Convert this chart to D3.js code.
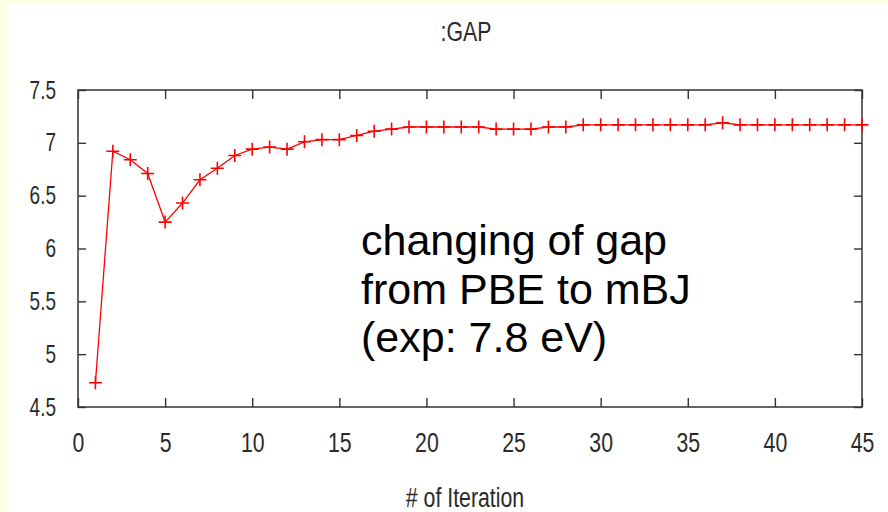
<!DOCTYPE html>
<html lang="en">
<head>
  <meta charset="UTF-8">
  <title>:GAP</title>
  <style>
    html, body { margin: 0; padding: 0; background: #fff; }
    .tick text, .lbl { font-family: 'Liberation Sans', Arial, sans-serif; fill: #2a2a2a; }
    .tick line { stroke: #333; stroke-width: 1.4px; }
    .gap-line { fill: none; stroke: #ff0000; stroke-width: 1.3px; }
    .marker { stroke: #ff0000; stroke-width: 1.6px; }
    .note { font-family: 'Liberation Sans', Arial, sans-serif; font-size: 43px; fill: #000; }
  </style>
</head>
<body>
<svg id="chart" width="888" height="512" viewBox="0 0 888 512"></svg>
<script src="https://d3js.org/d3.v7.min.js"></script>
<script>

// data
const iterations = [1, 2, 3, 4, 5, 6, 7, 8, 9, 10, 11, 12, 13, 14, 15, 16, 17, 18, 19, 20, 21, 22, 23,
  24, 25, 26, 27, 28, 29, 30, 31, 32, 33, 34, 35, 36, 37, 38, 39, 40, 41, 42, 43, 44, 45];
const gapValues = [4.73, 6.92, 6.84, 6.71, 6.25, 6.43, 6.65, 6.76, 6.88, 6.94, 6.96, 6.94, 7.01, 7.03, 7.03,
  7.07, 7.11, 7.13, 7.15, 7.15, 7.15, 7.15, 7.15, 7.13, 7.13, 7.13, 7.15, 7.15, 7.17, 7.17, 7.17, 7.17,
  7.17, 7.17, 7.17, 7.17, 7.19, 7.17, 7.17, 7.17, 7.17, 7.17, 7.17, 7.17, 7.17];
const xTicks = [0, 5, 10, 15, 20, 25, 30, 35, 40, 45];
const yTicks = [4.5, 5, 5.5, 6, 6.5, 7, 7.5];
const chartTitle = ":GAP";
const xTitle = "# of Iteration";
const noteLines = ["changing of gap", "from PBE to mBJ", "(exp: 7.8 eV)"];

const data = iterations.map((it, i) => ({ it: it, gap: gapValues[i] }));

const svg = d3.select("#chart"),
    margin = {top: 90, right: 26, bottom: 105, left: 78},
    width = +svg.attr("width") - margin.left - margin.right,
    height = +svg.attr("height") - margin.top - margin.bottom;

// gnuplot labels look squeezed sideways
const narrow = 0.76;

// pale yellow slide edge
svg.append("rect").attr("width", 888).attr("height", 512).attr("fill", "#ffffe3");
svg.append("rect").attr("x", 8).attr("y", 3).attr("width", 880).attr("height", 509).attr("fill", "#fff");

const x = d3.scaleLinear().domain([0, 45]).range([0, width]),
    y = d3.scaleLinear().domain([4.5, 7.5]).range([height, 0]);

const g = svg.append("g")
    .attr("transform", "translate(" + margin.left + "," + margin.top + ")");

// axes with inward ticks, mirrored on top/right
g.append("g")
    .attr("transform", "translate(0," + height + ")")
    .call(d3.axisBottom(x).tickValues(xTicks).tickSizeInner(-9).tickSizeOuter(0).tickPadding(25))
    .call(a => a.select(".domain").remove())
    .selectAll("text")
    .attr("font-size", 28)
    .attr("transform", "scale(" + narrow + ",1)");

g.append("g")
    .call(d3.axisTop(x).tickValues(xTicks).tickSizeInner(-9).tickSizeOuter(0).tickFormat(""))
    .call(a => a.select(".domain").remove());

g.append("g")
    .call(d3.axisLeft(y).tickValues(yTicks).tickSizeInner(-8).tickSizeOuter(0).tickFormat(d => String(d)))
    .call(a => a.select(".domain").remove())
    .selectAll("text")
    .attr("font-size", 25)
    .attr("x", -22 / narrow)
    .attr("transform", "scale(" + narrow + ",1)");

g.append("g")
    .attr("transform", "translate(" + width + ",0)")
    .call(d3.axisRight(y).tickValues(yTicks).tickSizeInner(-8).tickSizeOuter(0).tickFormat(""))
    .call(a => a.select(".domain").remove());

// frame
g.append("rect")
    .attr("width", width)
    .attr("height", height)
    .attr("fill", "none")
    .attr("stroke", "#333")
    .attr("stroke-width", 1.5);

const line = d3.line()
    .x(d => x(d.it))
    .y(d => y(d.gap));

g.append("path")
    .datum(data)
    .attr("class", "gap-line")
    .attr("d", line);

// plus markers
g.append("g")
    .selectAll("path")
    .data(data)
    .enter().append("path")
    .attr("class", "marker")
    .attr("d", d => {
      const px = x(d.it), py = y(d.gap), s = 6.5;
      return "M" + (px - s) + "," + py + "H" + (px + s) + "M" + px + "," + (py - s) + "V" + (py + s);
    });

// note
g.append("g")
    .selectAll("text")
    .data(noteLines)
    .enter().append("text")
    .attr("class", "note")
    .attr("x", 283)
    .attr("y", (d, i) => 165 + i * 48.5)
    .text(d => d);

svg.append("text")
    .attr("class", "lbl")
    .attr("x", 466 / narrow)
    .attr("y", 41)
    .attr("text-anchor", "middle")
    .attr("font-size", 28)
    .attr("transform", "scale(" + narrow + ",1)")
    .text(chartTitle);

svg.append("text")
    .attr("class", "lbl")
    .attr("x", 465 / narrow)
    .attr("y", 507)
    .attr("text-anchor", "middle")
    .attr("font-size", 28)
    .attr("transform", "scale(" + narrow + ",1)")
    .text(xTitle);

</script>
</body>
</html>
